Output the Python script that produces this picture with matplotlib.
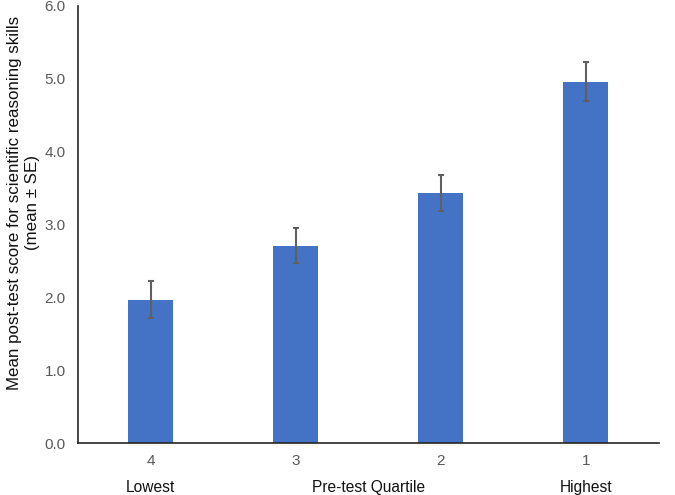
import matplotlib
matplotlib.use("Agg")
import matplotlib.pyplot as plt
import matplotlib.transforms as mtransforms

plt.rcParams['font.family'] = ['Liberation Sans', 'DejaVu Sans']

quartiles = ["4", "3", "2", "1"]
group_labels = ["Lowest", "Pre-test Quartile", "Highest"]
means = [1.97, 2.71, 3.43, 4.96]
se = [0.26, 0.24, 0.25, 0.27]

fig = plt.figure(figsize=(6.75, 4.95), dpi=100)
ax = fig.add_axes([0.1156, 0.105, 0.86, 0.883])

x = list(range(len(quartiles)))
ax.bar(x, means, width=0.31, color='#4472C4', zorder=2)
ax.errorbar(x, means, yerr=se, fmt='none', ecolor='#606060',
            elinewidth=1.5, capsize=2.5, capthick=1.5, zorder=3)

ax.set_xlim(-0.5, 3.5)
ax.set_ylim(0, 6)
ax.set_yticks([0, 1, 2, 3, 4, 5, 6])
ax.set_yticklabels([f"{v:.1f}" for v in range(7)])
ax.set_xticks(x)
ax.set_xticklabels(quartiles)
ax.tick_params(length=0, labelsize=11, labelcolor='#595959', pad=8)
ax.tick_params(axis='y', pad=9)

for s in ['top', 'right']:
    ax.spines[s].set_visible(False)
for s in ['left', 'bottom']:
    ax.spines[s].set_color('#262626')
    ax.spines[s].set_linewidth(1.2)

ax.set_ylabel("Mean post-test score for scientific reasoning skills\n(mean ± SE)",
              fontsize=12.2, color='#111111')
ax.yaxis.set_label_coords(-0.066, 0.55)

# second row of x labels
trans = mtransforms.blended_transform_factory(ax.transData, fig.transFigure)
for pos, lab in zip([0, 1.5, 3], group_labels):
    ax.text(pos, 0.0, lab, transform=trans, ha='center', va='bottom',
            fontsize=11.2, color='#111111')

fig.savefig("out.png", dpi=100)
